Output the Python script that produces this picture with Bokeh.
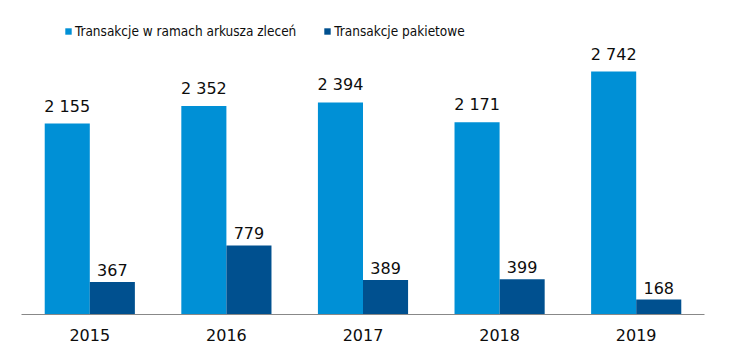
from bokeh.plotting import figure
from bokeh.models import ColumnDataSource, FactorRange, Range1d, LabelSet, Legend, LegendItem
from bokeh.transform import dodge
from bokeh.core.properties import value
from bokeh.embed import file_html
from bokeh.resources import INLINE

years = ["2015", "2016", "2017", "2018", "2019"]
order_book = [2155, 2352, 2394, 2171, 2742]
block_trades = [367, 779, 389, 399, 168]
series_names = ["Transakcje w ramach arkusza zleceń", "Transakcje pakietowe"]

def fmt(v):
    return f"{v:,}".replace(",", " ")

src = ColumnDataSource(dict(
    year=years,
    a=order_book,
    b=block_trades,
    a_lbl=[fmt(v) for v in order_book],
    b_lbl=[fmt(v) for v in block_trades],
))

LIGHT = "#0090D6"
DARK = "#00508F"

p = figure(width=730, height=355, x_range=FactorRange(*years, range_padding=0),
           y_range=Range1d(0, 3544), output_backend="svg", toolbar_location=None,
           y_axis_location=None, min_border_left=21, min_border_right=26,
           min_border_top=0, min_border_bottom=41)
p.x_range.range_padding = 0

r1 = p.vbar(x=dodge("year", -0.165, range=p.x_range), top="a", width=0.33,
            source=src, color=LIGHT, line_color=None)
r2 = p.vbar(x=dodge("year", 0.165, range=p.x_range), top="b", width=0.33,
            source=src, color=DARK, line_color=None)

lab_font = "DejaVu Sans"
l1 = LabelSet(x=dodge("year", -0.165, range=p.x_range), y="a", text="a_lbl", source=src,
              text_align="center", text_baseline="alphabetic", y_offset=12,
              text_font=value(lab_font), text_font_size=value("16px"), text_color=value("#0d0d0d"))
l2 = LabelSet(x=dodge("year", 0.165, range=p.x_range), y="b", text="b_lbl", source=src,
              text_align="center", text_baseline="alphabetic", y_offset=6,
              text_font=value(lab_font), text_font_size=value("16px"), text_color=value("#0d0d0d"))
p.add_layout(l1)
p.add_layout(l2)

p.xgrid.grid_line_color = None
p.ygrid.grid_line_color = None
p.outline_line_color = None
p.xaxis.axis_line_color = "#888888"
p.xaxis.axis_line_width = 1
p.xaxis.major_tick_line_color = None
p.xaxis.minor_tick_line_color = None
p.xaxis.major_label_text_font = lab_font
p.xaxis.major_label_text_font_size = "16px"
p.xaxis.major_label_text_color = "#0d0d0d"
p.xaxis.major_label_standoff = 8

legend = Legend(items=[LegendItem(label=series_names[0], renderers=[r1]),
                       LegendItem(label=series_names[1], renderers=[r2])],
                orientation="horizontal", location=(43, 275),
                padding=0, margin=0, spacing=27, label_standoff=3,
                glyph_width=8, glyph_height=8, label_height=16,
                border_line_color=None, background_fill_alpha=0,
                label_text_font="DejaVu Sans Condensed",
                label_text_font_size="13.5px", label_text_color="#0d0d0d")
p.add_layout(legend)

open("out.html", "w").write(file_html(p, INLINE))
